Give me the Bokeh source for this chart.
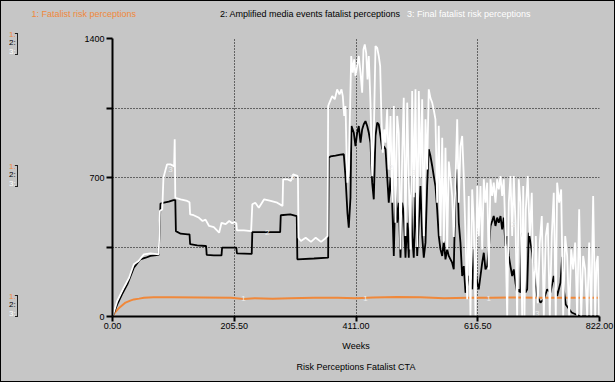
from bokeh.plotting import figure
from bokeh.models import FixedTicker, NumeralTickFormatter, Range1d, Div, Title
from bokeh.layouts import column, row
from bokeh.core.properties import value
from bokeh.embed import file_html
from bokeh.resources import INLINE

# ---------------- data ----------------
x_ticks = [0, 205.5, 411, 616.5, 822]
y_ticks = [0, 350, 700, 1050, 1400]

series_names = ["1: Fatalist risk perceptions",
                "2: Amplified media events fatalist perceptions",
                "3: Final fatalist risk perceptions"]
scale_tags = ["1:", "2:", "3:"]
x_title = "Weeks"
chart_title = "Risk Perceptions Fatalist CTA"

# 1: Fatalist risk perceptions (orange)
fatalist_weeks = [0, 4, 10, 16, 22, 30, 36, 45, 53, 69, 100, 150, 200, 221, 240, 270, 300,
                  340, 380, 411, 440, 480, 520, 560, 600, 640, 680, 720, 760, 800, 822]
fatalist_vals = [0, 20, 40, 55, 70, 80, 86, 90, 94, 97, 97, 96, 94, 88, 92, 90, 92,
                 94, 95, 92, 96, 98, 97, 92, 94, 95, 96, 95, 95, 95, 95]

# 2: Amplified media events fatalist perceptions (black)
media_weeks = [0, 8, 16, 25, 36, 47, 56, 64, 78, 81, 87, 95, 103, 106, 107, 115, 127, 130,
               131, 143, 157, 158, 159, 171, 184, 185, 209, 210, 235, 236, 283, 284, 300,
               311, 312, 340, 364, 365, 367.9, 376.4, 384.8, 390.4,
               393.3, 396.6, 398.8, 401.7, 403.4, 407.3, 410.1, 413.0, 415.7, 418.6, 421.4,
               424.1, 427.0, 429.9, 432.6, 435.4, 438.3, 441.0, 443.9, 446.8, 449.4, 452.3,
               455.2, 457.9, 460.8, 463.6, 466.3, 469.2, 472.1, 474.8, 477.6, 480.5, 483.2,
               486.1, 488.9, 491.6, 494.5, 497.4, 500.1, 502.9, 505.8, 508.5, 511.4, 514.3,
               517.0, 519.8, 522.7, 525.4, 528.3, 531.1, 533.8, 536.7, 539.6, 542.3, 545.1,
               548.0, 550.7, 553.6, 556.5, 559.2, 562.0, 564.9, 567.6, 570.5, 573.3, 576.0,
               578.9, 581.8, 584.5, 587.3, 590.2, 592.9, 595.8, 598.7, 601.3, 604.2, 607.1,
               609.8, 612.7, 615.6, 618.2, 621.1, 624.0, 626.7, 629.5, 632.4, 635.1, 638.0,
               640.9, 643.5, 646.4, 649.3, 652.0, 654.9, 657.7, 660.4, 663.3, 666.2, 668.9,
               671.7, 674.6, 677.3, 680.2, 683.0, 685.7, 688.6, 690.0, 691.5, 694.2, 697.0,
               699.9, 702.6, 705.5, 708.4, 711.1, 713.9, 716.8, 722.4, 728.0, 733.7, 739.2,
               744.8, 750.5, 756.1, 759.0, 761.7, 765, 775, 790, 822]
media_vals = [0, 61, 112, 162, 246, 288, 296, 305, 310, 569, 573, 578, 586, 586, 430, 417, 414, 414,
              364, 358, 355, 355, 310, 308, 308, 347, 347, 318, 315, 425, 425, 510, 514,
              506, 288, 292, 296, 800, 806, 810, 815, 817,
              700, 520, 447, 600, 959, 925, 858, 925, 959, 875, 942,
              968, 984, 959, 925, 875, 674, 590, 909, 976, 968, 909,
              842, 858, 842, 707, 573, 700, 573, 305, 657, 472, 573,
              296, 573, 523, 296, 472, 296, 707, 405, 296, 623, 305,
              472, 657, 405, 296, 372, 657, 842, 808, 758, 707, 657,
              540, 405, 338, 305, 380, 288, 338, 305, 288, 271, 238,
              623, 741, 472, 372, 204, 254, 120, 154, 204, 187, 137,
              338, 237, 170, 137, 204, 271, 321, 237, 254, 338, 456,
              481, 506, 456, 498, 472, 506, 439, 498, 355, 405, 305,
              254, 204, 237, 170, 120, 137, 120, 422, 321, 204, 120,
              137, 422, 372, 321, 237, 170, 103, 70, 87, 137, 120,
              204, 103, 170, 300, 137, 60, 20, 0, 0]

# 3: Final fatalist risk perceptions (white)
final_weeks = [0, 8, 19, 28, 36, 44, 53, 64, 78, 80, 84, 86, 89, 92, 98, 102, 104, 105, 106,
               115, 126, 130, 131, 137, 146, 152, 157, 163, 171, 180, 184, 191, 197, 202, 206,
               209, 210, 222, 234, 236, 241, 247, 256, 267, 278, 287, 288, 295, 301, 305, 312,
               313, 314, 318, 326, 335, 343, 352, 358, 363,
               364.0, 366.2, 370.8, 375.2, 379.2, 383.1, 386.5, 388.7, 391.1, 393.3, 395.0,
               396.6, 398.8, 401.2, 402.9, 405.6, 407.9, 410.1, 413.0, 415.7, 418.6, 421.4,
               423.6, 425.8, 428.2, 430.4, 432.6, 435.4, 438.3, 441.0, 443.9, 446.8, 449.4,
               451.8, 454.0, 456.2, 458.6, 460.8, 463.6, 466.3, 469.2, 472.1, 474.8, 477.6,
               480.5, 483.2, 486.1, 488.9, 491.6, 494.5, 497.4, 500.1, 502.9, 505.8, 508.5,
               511.4, 514.3, 517.0, 519.8, 522.7, 525.4, 528.3, 531.1, 533.8, 536.7, 539.6,
               542.3, 545.1, 548.0, 550.7, 553.6, 556.5, 559.2, 562.0, 564.9, 567.6, 570.5,
               573.3, 576.0, 578.9, 581.8, 584.5, 587.3, 590.2, 592.9, 595.8, 598.7, 601.3,
               604.2, 607.1, 609.8, 612.7, 615.6, 618.2, 621.1, 624.0, 626.7, 629.5, 632.4,
               635.1, 638.0, 640.9, 643.5, 646.4, 649.3, 652.0, 654.9, 657.7, 660.4, 663.3,
               666.2, 668.9, 671.7, 674.6, 677.3, 680.2, 683.0, 685.7, 688.6, 691.5, 693.2,
               695.4, 697.6, 700.9, 704.3, 707.7, 711.1, 714.5, 717.8, 721.2, 724.6, 728.0,
               731.3, 734.7, 738.1, 741.4, 744.8, 748.2, 750.5, 753.9, 757.3, 760.7, 764.1,
               767.4, 770.8, 774.2, 777.6, 780.9, 784.3, 787.7, 791.1, 794.4, 797.8, 801.2,
               804.6, 808.0, 811.3, 814.7, 816.9, 819.1, 821.4]
final_vals = [0, 78, 145, 195, 263, 280, 313, 318, 313, 531, 540, 699, 733, 766, 766, 760, 755, 892, 598,
              590, 582, 575, 514, 510, 497, 481, 488, 456, 450, 422, 472, 465, 481, 470, 475,
              470, 434, 434, 430, 565, 573, 548, 590, 582, 573, 557, 691, 691, 683, 716, 708,
              700, 397, 380, 397, 376, 397, 376, 390, 405,
              1060, 1077, 1110, 1094, 1144, 1119, 1144, 1110, 1010, 1060, 825,
              674, 741, 1077, 1312, 1228, 1295, 1211, 1261, 1312, 1228, 1127,
              1345, 1370, 1328, 1194, 1312, 1077, 707, 909, 1362, 1353, 1312,
              1261, 993, 825, 942, 875, 1043, 741, 1010, 573, 1060, 472,
              1010, 925, 338, 800, 1102, 405, 1077, 700, 338, 1135, 600,
              1144, 350, 1135, 700, 1094, 405, 993, 741, 1144, 1100, 1077,
              1040, 993, 573, 960, 405, 900, 372, 850, 338, 780, 700,
              607, 400, 680, 993, 573, 858, 909, 707, 405, 87, 607,
              0, 640, 472, 0, 657, 405, 657, 338, 691, 573, 674,
              237, 691, 607, 674, 573, 691, 640, 707, 607, 691, 405,
              0, 573, 707, 405, 707, 472, 0, 691, 573, 0, 657,
              0, 540, 707, 405, 623, 0, 405, 67, 372, 506, 0,
              405, 472, 0, 405, 623, 0, 674, 573, 640, 0, 405,
              305, 0, 338, 237, 372, 0, 540, 0, 305, 237, 0,
              372, 0, 607, 0, 270, 305, 0]

# small series markers written on the curves
marker_texts = ["1", "1", "1", "2", "2", "2", "3", "3", "3", "3"]
marker_weeks = [221, 427, 635, 261, 469, 677, 98, 303, 508, 717]
marker_vals = [92, 92, 92, 424, 750, 464, 741, 700, 727, 15]

# ---------------- style ----------------
GRAY = "#c6c6c6"
ORANGE = "#f0883a"
FONT = "Liberation Sans"
SERIES_COLORS = [ORANGE, "#000000", "#ffffff"]

fig = figure(width=592, height=351, output_backend="svg", toolbar_location=None,
             x_range=Range1d(0, 822), y_range=Range1d(0, 1400),
             min_border_left=90, min_border_right=15, min_border_top=8, min_border_bottom=65)
fig.background_fill_color = GRAY
fig.border_fill_color = GRAY
fig.outline_line_color = None

fig.xaxis.ticker = FixedTicker(ticks=x_ticks)
fig.xaxis.formatter = NumeralTickFormatter(format="0.00")
fig.yaxis.ticker = FixedTicker(ticks=y_ticks)
fig.yaxis.major_label_overrides = {350: "", 1050: ""}
for ax in (fig.xaxis[0], fig.yaxis[0]):
    ax.axis_line_width = 2
    ax.axis_line_color = "#000000"
    ax.major_tick_line_width = 2
    ax.major_tick_line_color = "#000000"
    ax.major_tick_in = 0
    ax.major_tick_out = 6
    ax.minor_tick_line_color = None
    ax.major_label_text_font = FONT
    ax.major_label_text_font_size = "9px"
    ax.major_label_text_color = "#000000"
    ax.major_label_standoff = 2
fig.xaxis.major_tick_out = 5
fig.xaxis.major_label_standoff = 1
fig.xaxis.axis_label = x_title
fig.xaxis.axis_label_text_font = FONT
fig.xaxis.axis_label_text_font_size = "9px"
fig.xaxis.axis_label_text_font_style = "normal"
fig.xaxis.axis_label_text_color = "#000000"
fig.xaxis.axis_label_standoff = 9

fig.add_layout(Title(text=chart_title, align="center", text_font=FONT, text_font_size="9px",
                     text_font_style="normal", text_color="#000000", standoff=12), "below")

for g in (fig.xgrid[0], fig.ygrid[0]):
    g.grid_line_color = "#000000"
    g.grid_line_dash = "1 2"
    g.grid_line_width = 1

fig.line(fatalist_weeks, fatalist_vals, line_color=SERIES_COLORS[0], line_width=2)
fig.line(media_weeks, media_vals, line_color=SERIES_COLORS[1], line_width=1.8)
fig.line(final_weeks, final_vals, line_color=SERIES_COLORS[2], line_width=1.8)
fig.text(x=marker_weeks, y=marker_vals, text=marker_texts, text_font=value(FONT),
         text_font_size="8px", text_color="#eeeeee", text_align="center",
         text_baseline="middle")

# ---------- header with the three series names ----------
legend_left = [30.5, 219, 406]
spans = "".join(
    f'<span style="position:absolute;left:{lx}px;top:8px;line-height:10px;white-space:nowrap;'
    f'color:{c};">{t}</span>'
    for t, lx, c in zip(series_names, legend_left, SERIES_COLORS))
header = Div(width=613, height=29,
             text=f'<div style="position:relative;width:613px;height:29px;'
                  f'font-family:\'{FONT}\';font-size:9px;">{spans}</div>',
             styles={"background-color": GRAY, "margin": "0", "padding": "0"})

# ---------- scale indicators at left ----------
parts = []
for top in (5, 137, 267):
    for i, (t, c) in enumerate(zip(scale_tags, SERIES_COLORS)):
        parts.append(f'<span style="position:absolute;left:8px;top:{top - 4 + i * 8.3:.1f}px;'
                     f'line-height:8px;color:{c};">{t}</span>')
    parts.append(f'<div style="position:absolute;left:14px;top:{top - 2}px;width:3px;height:22px;'
                 f'border:1px solid #202020;border-left:none;"></div>')
side = Div(width=21, height=351,
           text=f'<div style="position:relative;width:21px;height:351px;font-family:\'{FONT}\';'
                f'font-size:8px;">{"".join(parts)}</div>',
           styles={"background-color": GRAY, "margin": "0", "padding": "0"})

p = column(header, row(side, fig, spacing=0), spacing=0,
           styles={"border": "1px solid #000000", "background-color": GRAY})

open("out.html", "w").write(file_html(p, INLINE))
